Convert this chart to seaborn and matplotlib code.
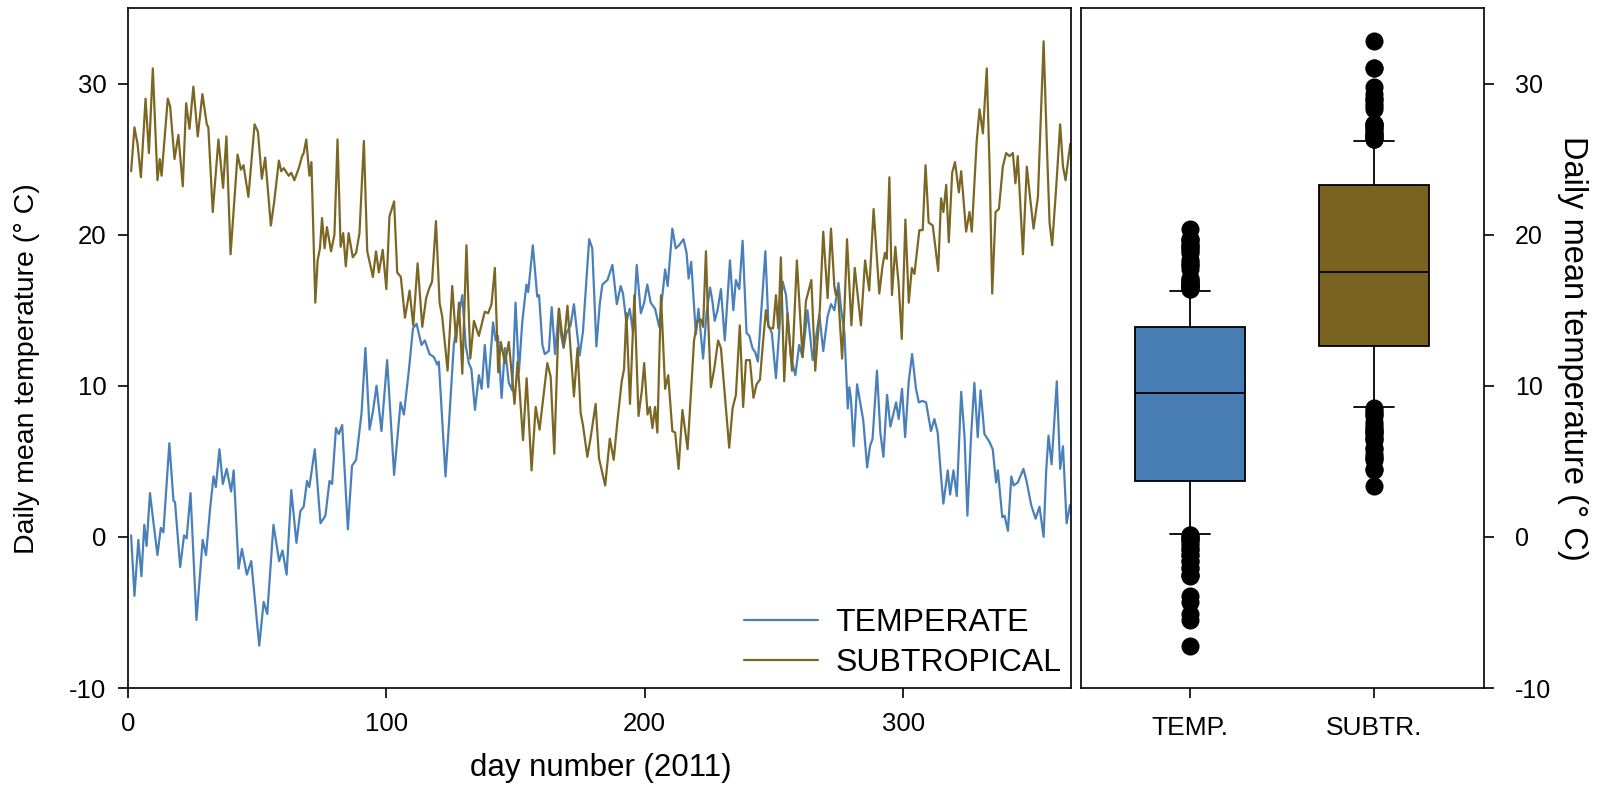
import numpy as np
import pandas as pd
import matplotlib
matplotlib.use("Agg")
import matplotlib.pyplot as plt
import seaborn as sns
from matplotlib.lines import Line2D

# ---------------- data ----------------
temperate_day = [1.2, 2.5, 4, 5.2, 6.3, 7.2, 8.5, 10.1, 11.4, 12.7, 13.7, 16, 17.6, 18.2, 20.2, 21.7, 22.7, 24.2,
                 26.5, 28.9, 30.2, 31.8, 33.1, 34, 35.4, 36.7, 38.2, 39.9, 40.9, 42.8, 44.1, 46, 47.7, 50.8, 52.5,
                 53.9, 56.3, 58.5, 59.8, 61.4, 63.2, 65.2, 66.7, 68, 69.3, 70.2, 72.3, 74.5, 76.4, 78, 79, 80.5,
                 81.6, 82.9, 85.1, 86.7, 88.3, 90.4, 91.9, 93.5, 94.8, 96.2, 98.1, 100.3, 103, 105.5, 106.8, 108.7,
                 110.3, 111.7, 113.6, 114.9, 116.7, 118.4, 119.7, 120.3, 122.9, 124.2, 126.1, 129.4, 130.7, 131.9,
                 132.9, 134.3, 135.8, 136.9, 138.1, 139.4, 141.3, 142.3, 143.2, 144.6, 145.9, 147.4, 148.7, 150,
                 151.3, 152.6, 154.2, 154.9, 156.7, 158.4, 159.1, 160.4, 161.3, 162.9, 164, 165.3, 166.8, 167.5,
                 168.6, 169.7, 171.3, 172.6, 174.8, 176.1, 178.5, 179.7, 181.3, 182.6, 183.6, 185.6, 187.5, 189.2,
                 190.7, 191.6, 192.9, 194.2, 195.5, 196.9, 198.5, 199.8, 201, 202.3, 204, 205.6, 206.6, 207.9,
                 208.9, 210.7, 212, 213.3, 215, 216.2, 217, 218, 219.1, 219.8, 220.8, 222.6, 223.9, 225.3, 226.2,
                 227.1, 228.2, 229.5, 231, 233, 234.3, 235.3, 236.6, 237.9, 239.4, 240.5, 241.7, 242.8, 243.8,
                 246.7, 247.9, 249.2, 250.8, 253.4, 254.7, 256.5, 258.3, 259.8, 261.1, 263, 265, 267.6, 269.1,
                 270.8, 272.1, 273.4, 275, 276, 277.3, 278.6, 279.2, 279.8, 280.9, 282.2, 283.5, 284.6, 286.1,
                 287.2, 288.2, 289.9, 291.2, 292.4, 293.8, 295.1, 297.3, 298.3, 299.6, 300.8, 302.2, 303.5, 305,
                 306.1, 307.4, 308.9, 309.9, 310.8, 312.1, 313.4, 314.7, 315.6, 317.3, 318.2, 319.5, 320.8, 322.5,
                 323.8, 324.9, 326.3, 327.6, 328.9, 330, 331.5, 333.4, 334.7, 336, 336.7, 338.4, 339.3, 340.6,
                 341.9, 342.8, 344.4, 346.6, 347.9, 349.6, 351.3, 352.8, 354.4, 355.4, 356.3, 357.5, 359.5, 360.8,
                 361.9, 363.3, 364.6]
temperate_val = [0.1, -3.9, -0.2, -2.6, 0.8, -0.6, 2.9, 0.6, -1.2, 0.6, 0.3, 6.2, 2.4, 2.3, -2.0, 0.1, -0.1, 2.9,
                 -5.5, -0.2, -1.2, 1.9, 4.0, 3.3, 5.8, 3.5, 4.5, 3.0, 4.4, -2.1, -0.8, -2.5, -1.6, -7.2, -4.3,
                 -5.1, 0.8, -1.6, -0.9, -2.5, 3.1, -0.4, 1.7, 2.0, 3.7, 3.3, 5.8, 0.9, 1.4, 3.7, 3.5, 7.2,
                 6.8, 7.4, 0.5, 4.7, 5.1, 8.2, 12.5, 7.1, 8.3, 10.0, 7.0, 11.7, 4.1, 8.9, 8.1, 11.0,
                 13.8, 14.1, 12.7, 13.0, 12.1, 11.9, 11.4, 11.6, 4.0, 7.4, 12.7, 16.0, 12.7, 11.5,
                 11.1, 8.4, 10.7, 9.8, 12.7, 9.9, 14.2, 13.0, 13.3, 9.2, 12.5, 10.2, 9.7, 15.5,
                 10.9, 14.2, 16.7, 16.2, 19.3, 15.9, 16.0, 12.7, 12.1, 12.3, 15.2, 12.1, 15.1, 13.5,
                 12.5, 13.5, 14.0, 15.4, 12.0, 13.6, 19.7, 19.1, 12.6, 15.4, 16.7, 17.0, 18.0, 15.4,
                 16.6, 16.1, 14.2, 15.1, 13.5, 18.0, 14.8, 15.5, 16.7, 15.5, 15.1, 13.9, 15.6, 17.7,
                 16.6, 20.4, 19.1, 19.3, 19.7, 18.8, 17.1, 18.2, 15.3, 13.4, 15.1, 11.8, 14.8, 16.5, 15.6,
                 14.3, 15.0, 16.4, 13.0, 18.3, 15.0, 17.0, 16.4, 19.6, 13.5, 13.3, 12.5, 12.2, 11.6,
                 18.9, 14.0, 13.5, 10.5, 16.9, 16.0, 12.0, 10.7, 12.7, 11.9, 15.0, 11.7, 14.7, 12.3,
                 14.6, 15.4, 15.0, 16.8, 15.1, 13.5, 8.5, 9.9, 9.2, 6.0, 10.1, 8.8, 7.7, 4.6,
                 6.0, 6.5, 11.0, 6.9, 5.3, 9.4, 7.3, 8.9, 7.8, 9.8, 6.6, 10.3, 12.1, 9.8,
                 8.9, 9.0, 8.9, 7.9, 7.0, 7.8, 6.9, 4.0, 2.2, 4.4, 2.8, 4.4, 2.7, 9.6,
                 6.6, 1.4, 6.6, 10.2, 6.6, 9.7, 6.8, 6.3, 5.8, 3.6, 4.4, 1.3, 1.4, 0.4,
                 4.0, 3.4, 3.6, 4.5, 3.6, 2.1, 1.2, 2.0, 0.0, 4.4, 6.7, 4.8, 10.3, 4.5,
                 6.0, 0.9, 2.1]

subtrop_day = [1.2, 2.5, 3.7, 5, 6.8, 8.1, 9.6, 11.4, 12.3, 13, 15.4, 16.3, 18, 19.5, 21.2, 22.5, 23.8, 25.3, 27,
               28.8, 30.5, 31.1, 32.8, 35, 36.8, 38.1, 39.7, 42.4, 43.7, 44.7, 46.6, 49, 50.3, 51.8, 53.1, 55.3,
               56.6, 58.4, 59.3, 60.3, 62.2, 63.2, 64.4, 66.1, 67.4, 68, 69, 70.2, 71, 72.5, 73.4, 74.3, 75.1,
               76.1, 77, 78.6, 79.9, 81.1, 82.3, 83.3, 84.3, 85.4, 87, 88.3, 89.6, 91.3, 92.6, 94.8, 96, 97.1,
               98.6, 100, 101.2, 103, 104.2, 105.6, 107.2, 109, 110.4, 112.1, 113.9, 115.4, 116.5, 117.7, 119.2,
               120.6, 121.6, 123.7, 125.5, 127, 128.1, 129.4, 131, 132.5, 133.9, 135.8, 138.1, 139.4, 140.7, 142,
               143.3, 144.3, 145.9, 147.4, 149.6, 150.8, 152.9, 154.3, 156.2, 157.8, 159.3, 162.3, 163.6, 165,
               166.8, 168.6, 170.1, 172.6, 174, 175.2, 176.1, 177.8, 179.1, 181, 182.3, 184.7, 186.5, 188, 189.4,
               191.1, 192, 192.9, 194.3, 196, 197.6, 198.9, 199.8, 201.1, 202, 203, 204, 204.9, 206.3, 207.9,
               209.1, 210.7, 211.8, 213.1, 214.6, 216.6, 217.9, 219.1, 220.4, 221.7, 222.6, 223.7, 224.4, 225.6,
               226.9, 228.4, 229.5, 232.7, 234, 235.3, 236.8, 238.1, 239.2, 240.7, 242.1, 243.3, 244.6, 245.6,
               246.9, 247.9, 248.8, 249.7, 250.8, 251.7, 252.7, 254, 255.3, 257, 258.9, 261.1, 262.4, 264.5, 266,
               267.8, 269.1, 270.8, 272.1, 273.4, 274, 274.8, 276.4, 277.3, 278.3, 280, 281.3, 282.8, 283.7,
               285.3, 286.9, 288.6, 290.8, 292.1, 293, 293.7, 294.7, 295.7, 297, 298.3, 299.5, 300.9, 302.2,
               303.4, 304.4, 306.3, 307.6, 308.7, 309.9, 311.5, 313.6, 314.7, 315.6, 316.7, 317.7, 319, 320.1,
               321.6, 322.5, 324.4, 325.7, 326.6, 328.5, 329.6, 330.9, 332.4, 333.5, 334.5, 335.8, 337.1, 338.6,
               339.9, 341.2, 342.5, 343.5, 344.4, 346.4, 347.9, 349.2, 350.5, 352.2, 354.4, 355.7, 356.7, 357.7,
               359.3, 360.8, 361.9, 362.9, 364.7]
subtrop_val = [24.2, 27.1, 26.0, 23.8, 29.0, 25.4, 31.0, 23.6, 25.0, 23.9, 29.0, 28.5, 25.0, 26.6, 23.2, 28.7, 27.0,
               29.8, 26.5, 29.3, 27.3, 27.1, 21.5, 26.3, 23.1, 26.5, 18.7, 25.3, 24.3, 24.6, 22.5, 27.3, 26.8, 23.7,
               25.1, 20.6, 22.2, 24.9, 24.2, 24.4, 23.9, 24.1, 23.6, 24.4, 25.2, 25.4, 26.3, 23.9, 24.8, 15.5,
               18.3, 19.1, 21.1, 19.1, 20.5, 18.9, 20.0, 26.3, 19.2, 20.1, 17.9, 20.1, 18.5, 18.8, 20.1, 26.2,
               18.9, 17.2, 18.9, 17.5, 19.0, 16.4, 21.2, 22.2, 17.5, 17.2, 14.5, 16.3, 14.0, 18.1, 13.9, 15.8,
               16.4, 16.9, 20.9, 15.5, 14.6, 11.0, 16.6, 12.9, 15.5, 10.8, 19.3, 11.8, 14.3, 13.3, 14.9, 14.8,
               15.4, 17.8, 10.9, 12.9, 11.5, 12.9, 8.8, 11.6, 6.4, 10.5, 4.4, 8.6, 7.1, 11.5, 10.6, 5.5, 15.1,
               12.6, 15.3, 9.3, 12.5, 8.2, 7.4, 5.3, 6.6, 8.8, 5.2, 3.4, 6.5, 5.1, 7.6, 10.3, 11.1, 14.8, 8.8,
               16.0, 8.0, 9.7, 11.5, 8.1, 8.6, 7.2, 8.6, 6.9, 16.0, 9.8, 10.7, 7.0, 6.9, 4.5, 8.4, 5.8, 9.6,
               13.0, 14.3, 14.4, 13.9, 18.9, 15.1, 9.9, 11.1, 13.0, 12.5, 5.9, 8.5, 9.4, 14.0, 8.6, 11.7, 11.7,
               9.2, 10.1, 10.4, 12.5, 15.0, 13.9, 13.8, 13.8, 16.0, 13.8, 18.5, 10.3, 14.8, 11.0, 18.3, 11.9,
               15.6, 17.0, 11.0, 15.1, 20.2, 15.8, 20.4, 16.6, 16.0, 16.3, 11.8, 15.0, 19.7, 14.0, 17.8, 15.4,
               14.0, 18.3, 16.3, 21.7, 16.1, 18.0, 18.8, 18.4, 23.8, 16.0, 19.2, 16.7, 13.1, 21.0, 15.5, 17.8,
               17.4, 20.3, 20.3, 24.6, 20.8, 20.6, 17.6, 22.4, 21.5, 23.3, 19.5, 24.1, 24.8, 22.8, 24.2, 20.2,
               21.5, 20.2, 26.2, 28.3, 26.7, 31.0, 24.4, 16.1, 21.5, 21.7, 24.5, 25.4, 25.2, 25.4, 23.4, 25.2,
               18.7, 24.5, 22.4, 20.4, 22.5, 32.8, 25.7, 20.8, 19.3, 23.2, 27.3, 24.5, 23.6, 26.0]

series_names = ["TEMPERATE", "SUBTROPICAL"]
box_labels = ["TEMP.", "SUBTR."]
box_q1 = [3.7, 12.6]
box_med = [9.5, 17.5]
box_q3 = [13.9, 23.3]
whisk_lo = [0.2, 8.6]
whisk_hi = [16.3, 26.2]

x_ticks = [0, 100, 200, 300]
y_ticks = [-10, 0, 10, 20, 30]

# ---------------- style ----------------
line_colors = {"TEMPERATE": "#4a80ba", "SUBTROPICAL": "#7b6723"}
box_colors = ["#477db2", "#7a6321"]

sns.set_theme(style="white")
plt.rcParams["font.family"] = ["Liberation Sans", "DejaVu Sans"]
plt.rcParams["axes.unicode_minus"] = False
plt.rcParams["text.color"] = "black"
plt.rcParams["axes.labelcolor"] = "black"
plt.rcParams["xtick.color"] = "black"
plt.rcParams["ytick.color"] = "black"
plt.rcParams["axes.linewidth"] = 1.2
plt.rcParams["xtick.major.width"] = 1.2
plt.rcParams["ytick.major.width"] = 1.2

fig = plt.figure(figsize=(15.97, 7.88), dpi=100)
W, H = 1597, 788
ax1 = fig.add_axes([128 / W, 1 - 688 / H, (1071 - 128) / W, (688 - 8) / H])
ax2 = fig.add_axes([1080.5 / W, 1 - 688 / H, (1483.5 - 1080.5) / W, (688 - 8) / H])

# ---------------- left: time series ----------------
df = pd.concat([
    pd.DataFrame({"day": temperate_day, "temp": temperate_val, "site": series_names[0]}),
    pd.DataFrame({"day": subtrop_day, "temp": subtrop_val, "site": series_names[1]}),
])
sns.lineplot(data=df, x="day", y="temp", hue="site", palette=line_colors, estimator=None,
             sort=False, linewidth=1.6, ax=ax1, legend=False)

ax1.set_xlim(0, 365)
ax1.set_ylim(-10, 35)
ax1.set_xticks(x_ticks)
ax1.set_yticks(y_ticks)
ax1.tick_params(axis="both", direction="out", length=7.5, colors="black", labelsize=18.5,
                bottom=True, left=True, top=False, right=False)
ax1.tick_params(axis="x", pad=10)
ax1.tick_params(axis="y", pad=8)
ax1.set_xlabel("day number (2011)", fontsize=22.5, va="center", ha="center", color="black")
ax1.set_ylabel("Daily mean temperature (° C)", fontsize=20.5, va="center", ha="center", color="black")
ax1.xaxis.set_label_coords(0.5016, -0.1176)
ax1.yaxis.set_label_coords(-0.1076, 0.47)
for s in ax1.spines.values():
    s.set_color("black")
    s.set_linewidth(1.2)

handles = [Line2D([], [], color=line_colors[n], lw=1.6) for n in series_names]
leg = ax1.legend(handles, series_names, loc="lower right", bbox_to_anchor=(1, 0), frameon=False,
                 fontsize=23, handlelength=2.3, handletextpad=0.55, labelspacing=0.33,
                 borderaxespad=0, borderpad=0.3)
for t in leg.get_texts():
    t.set_color("black")

# ---------------- right: box plots ----------------
vals = [np.array(temperate_val), np.array(subtrop_val)]
stats = []
for i in range(2):
    v = vals[i]
    stats.append(dict(label=box_labels[i], q1=box_q1[i], med=box_med[i], q3=box_q3[i],
                      whislo=whisk_lo[i], whishi=whisk_hi[i],
                      fliers=v[(v < whisk_lo[i]) | (v > whisk_hi[i])]))
bp = ax2.bxp(stats, positions=[0, 1], widths=0.6, capwidths=[0.22, 0.22], patch_artist=True,
             boxprops=dict(edgecolor="black", linewidth=1.3),
             medianprops=dict(color="black", linewidth=1.3),
             whiskerprops=dict(color="black", linewidth=1.3),
             capprops=dict(color="black", linewidth=1.3),
             flierprops=dict(marker="o", markerfacecolor="black", markeredgecolor="black",
                             markersize=12, linestyle="none"))
for patch, c in zip(bp["boxes"], box_colors):
    patch.set_facecolor(c)

ax2.set_xlim(-0.595, 1.595)
ax2.set_ylim(-10, 35)
ax2.set_yticks(y_ticks)
ax2.set_xticks([0, 1])
ax2.set_xticklabels(box_labels)
ax2.yaxis.tick_right()
ax2.tick_params(axis="both", direction="out", length=7.5, colors="black", labelsize=18,
                bottom=True, right=True, left=False, top=False)
ax2.tick_params(axis="x", pad=13, labelsize=19)
ax2.tick_params(axis="y", pad=15)
ax2.yaxis.set_label_position("right")
ax2.set_ylabel("Daily mean temperature (° C)", fontsize=23.5, rotation=270, color="black")
ax2.yaxis.label.set_rotation_mode("default")
ax2.yaxis.label.set_verticalalignment("center")
ax2.yaxis.label.set_horizontalalignment("center")
ax2.yaxis.set_label_coords(1.222, 0.5)
for s in ax2.spines.values():
    s.set_color("black")
    s.set_linewidth(1.2)

fig.savefig("out.png", dpi=100)
